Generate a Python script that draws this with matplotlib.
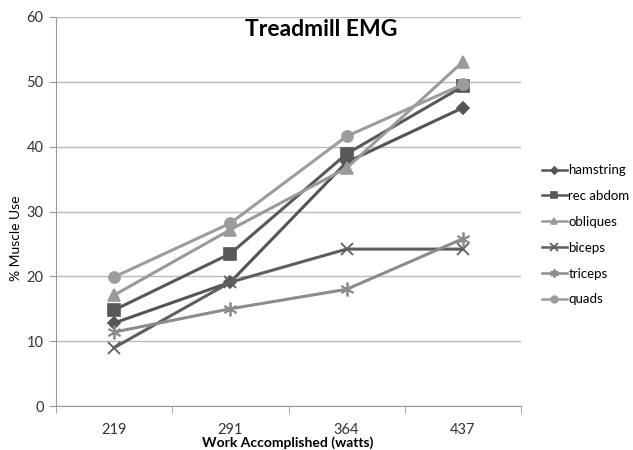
import matplotlib.pyplot as plt
import numpy as np

plt.rcParams['font.family'] = ['Lato', 'DejaVu Sans']

watts = ['219', '291', '364', '437']
hamstring = [12.8, 19.1, 37.6, 46.0]
rec_abdom = [14.8, 23.5, 38.9, 49.3]
obliques = [17.1, 27.2, 36.7, 53.1]
biceps = [9.0, 19.1, 24.2, 24.2]
triceps = [11.4, 15.0, 18.0, 25.8]
quads = [19.9, 28.2, 41.6, 49.6]

# name, values, colour, marker, size, marker edge width
series = [
    ('hamstring', hamstring, '#555555', 'D', 6, 1.2),
    ('rec abdom', rec_abdom, '#585858', 's', 8, 1.2),
    ('obliques', obliques, '#9a9a9a', '^', 8, 1.2),
    ('biceps', biceps, '#5e5e5e', 'x', 9, 1.3),
    ('triceps', triceps, '#8c8c8c', (6, 2, 0), 10, 1.3),
    ('quads', quads, '#9c9c9c', 'o', 8, 1.2),
]

fig = plt.figure(figsize=(6.33, 4.5), dpi=100)
ax = fig.add_axes([56 / 633, 44 / 450, 465 / 633, 389 / 450])

x = np.arange(len(watts))
for name, vals, col, mk, ms, mew in series:
    ax.plot(x, vals, color=col, lw=2.2, marker=mk, markersize=ms,
            markeredgecolor=col, markerfacecolor=col, markeredgewidth=mew,
            label=name)

ax.set_xlim(-0.5, len(watts) - 0.5)
ax.set_ylim(0, 60)
ax.set_yticks(range(0, 61, 10))
ax.set_xticks(x)
ax.set_xticklabels(watts)
ax.set_xticks(np.arange(-0.5, len(watts), 1), minor=True)
ax.tick_params(axis='x', which='major', length=0, pad=12, labelsize=10.5, labelcolor='#333333')
ax.tick_params(axis='x', which='minor', length=5, color='#999999')
ax.tick_params(axis='y', length=5, color='#999999', labelsize=10.5, labelcolor='#333333', pad=4)

ax.grid(axis='y', color='#bbbbbb', lw=1)
ax.set_axisbelow(True)
for s in ['top', 'right']:
    ax.spines[s].set_visible(False)
for s in ['left', 'bottom']:
    ax.spines[s].set_color('#999999')

fig.text(0.507, 0.935, 'Treadmill EMG', fontsize=16.5, fontweight='bold', ha='center', va='center')
fig.text(0.455, 0.002, 'Work Accomplished (watts)', fontsize=10, fontweight='bold', ha='center', va='bottom')
fig.text(0.025, 0.47, '% Muscle Use', fontsize=10, rotation=90, ha='center', va='center')

leg = ax.legend(loc='center left', bbox_to_anchor=(1.045, 0.44), frameon=False, fontsize=9.5,
                handlelength=1.9, labelspacing=1.05, handletextpad=0.1, borderaxespad=0,
                borderpad=0, markerscale=0.6)
for h in leg.get_lines():
    h.set_linewidth(1.8)

fig.savefig('out.png', dpi=100)
